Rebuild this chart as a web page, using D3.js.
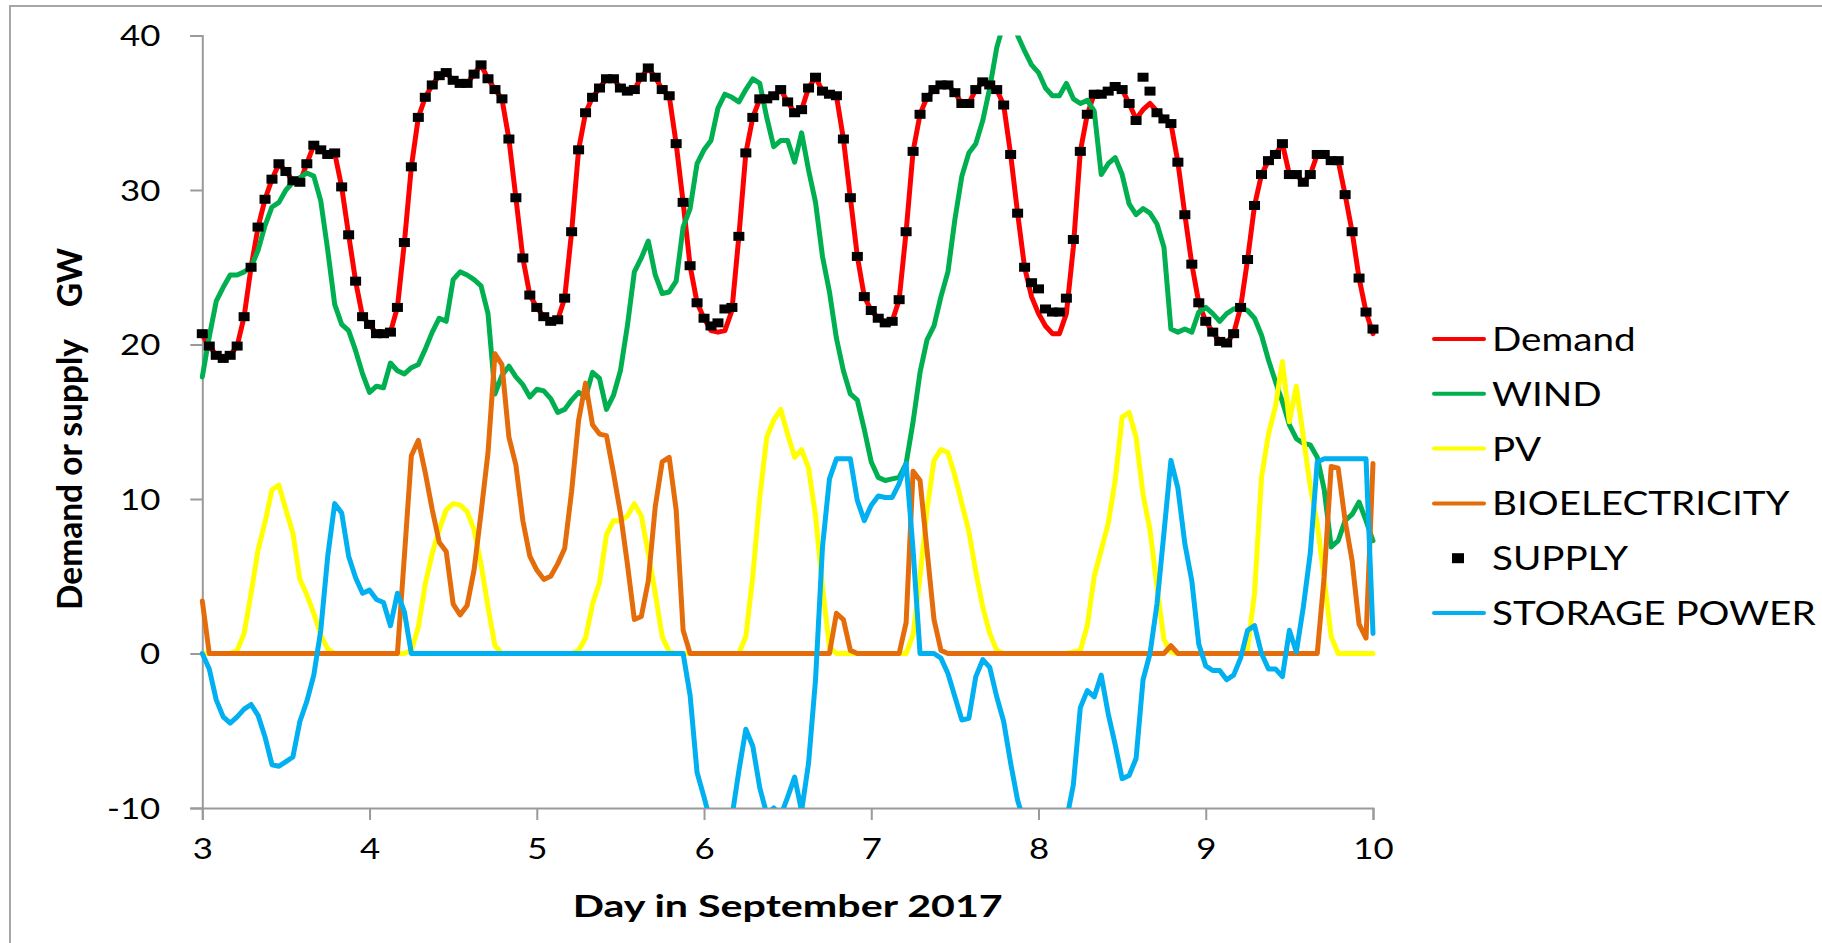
<!DOCTYPE html>
<html>
<head>
<meta charset="utf-8">
<script src="https://cdn.jsdelivr.net/npm/d3@7"></script>
<style>
  body { margin: 0; background: #fff; }
  svg { display: block; }
  text { font-family: Lato, "Open Sans", sans-serif; fill: #000; }
</style>
</head>
<body>
<div id="chart"></div>
<script>
// hourly values, 3 Sept 00:00 to 10 Sept 00:00 (169 points)
const startDay = 3;
const pointsPerDay = 24;

const demand = [
  20.6,19.9,19.3,19.1,19.3,19.9,21.8,25.0,27.6,29.4,30.7,31.7,31.2,30.6,30.5,31.7,32.9,32.6,32.3,32.4,30.2,27.1,24.1,21.8,
  21.3,20.7,20.7,20.8,22.4,26.6,31.5,34.7,36.0,36.8,37.4,37.6,37.1,36.9,36.9,37.5,38.1,37.2,36.5,35.9,33.3,29.5,25.6,23.2,
  22.4,21.8,21.5,21.6,23.0,27.3,32.6,35.0,36.0,36.6,37.2,37.2,36.6,36.4,36.5,37.3,37.9,37.3,36.5,36.1,33.0,29.2,25.1,22.7,
  21.7,20.9,20.8,20.9,22.2,27.0,32.4,34.7,35.9,35.9,36.1,36.5,35.7,35.0,35.2,36.6,37.3,36.4,36.2,36.1,33.3,29.5,25.7,23.1,
  22.2,21.7,21.4,21.5,22.9,27.3,32.5,34.9,36.0,36.5,36.8,36.8,36.3,35.6,35.6,36.5,37.0,36.8,36.5,35.5,32.3,28.5,25.0,23.1,
  22.0,21.2,20.7,20.7,22.0,26.3,32.5,34.9,36.2,36.2,36.4,36.7,36.5,35.6,34.6,35.2,35.6,35.1,34.6,34.3,31.8,28.4,25.2,22.7,
  21.5,20.8,20.2,20.1,20.7,22.4,25.5,29.0,31.0,31.9,32.3,33.0,31.0,31.0,30.5,31.0,32.3,32.3,31.9,31.9,29.7,27.3,24.3,22.1,
  20.7
];

const supply = [
  20.7,19.9,19.3,19.1,19.3,19.9,21.8,25.0,27.6,29.4,30.7,31.7,31.2,30.6,30.5,31.7,32.9,32.6,32.3,32.4,30.2,27.1,24.1,21.8,
  21.3,20.7,20.7,20.8,22.4,26.6,31.5,34.7,36.0,36.8,37.4,37.6,37.1,36.9,36.9,37.5,38.1,37.2,36.5,35.9,33.3,29.5,25.6,23.2,
  22.4,21.8,21.5,21.6,23.0,27.3,32.6,35.0,36.0,36.6,37.2,37.2,36.6,36.4,36.5,37.3,37.9,37.3,36.5,36.1,33.0,29.2,25.1,22.7,
  21.7,21.2,21.4,22.3,22.4,27.0,32.4,34.7,35.9,35.9,36.1,36.5,35.7,35.0,35.2,36.6,37.3,36.4,36.2,36.1,33.3,29.5,25.7,23.1,
  22.2,21.7,21.4,21.5,22.9,27.3,32.5,34.9,36.0,36.5,36.8,36.8,36.3,35.6,35.6,36.5,37.0,36.8,36.5,35.5,32.3,28.5,25.0,24.0,
  23.6,22.3,22.1,22.1,23.0,26.8,32.5,34.9,36.2,36.2,36.4,36.7,36.5,35.6,34.5,37.3,36.4,35.0,34.6,34.3,31.8,28.4,25.2,22.7,
  21.5,20.8,20.2,20.1,20.7,22.4,25.5,29.0,31.0,31.9,32.3,33.0,31.0,31.0,30.5,31.0,32.3,32.3,31.9,31.9,29.7,27.3,24.3,22.1,
  21.0
];

const wind = [
  17.9,20.5,22.8,23.7,24.5,24.5,24.7,25.0,26.1,27.7,28.9,29.2,30.0,30.5,30.8,31.1,30.9,29.3,26.1,22.6,21.3,20.9,19.6,18.1,
  16.9,17.3,17.2,18.8,18.3,18.1,18.5,18.7,19.7,20.8,21.7,21.5,24.2,24.7,24.5,24.2,23.8,22.0,16.8,18.0,18.6,17.9,17.4,16.6,
  17.1,17.0,16.5,15.6,15.8,16.4,16.9,16.6,18.2,17.8,15.8,16.7,18.3,21.2,24.7,25.6,26.7,24.5,23.3,23.4,24.1,27.6,28.8,31.7,
  32.6,33.2,35.3,36.2,36.0,35.7,36.5,37.2,36.9,34.7,32.8,33.2,33.2,31.8,33.7,31.3,29.2,25.7,23.4,20.4,18.3,16.8,16.4,14.5,
  12.4,11.4,11.2,11.3,11.4,12.3,15.0,18.2,20.3,21.2,23.1,24.7,28.1,30.9,32.4,33.0,34.5,36.6,39.2,40.8,41.5,40.0,39.0,38.1,
  37.6,36.6,36.1,36.1,36.9,35.9,35.6,35.8,35.1,31.0,31.7,32.1,31.0,29.1,28.4,28.8,28.5,27.8,26.3,21.0,20.8,21.0,20.8,22.1,
  22.4,22.0,21.5,22.0,22.3,22.4,22.2,21.7,20.6,19.0,17.6,16.3,14.8,13.9,13.6,13.5,12.7,10.6,6.9,7.3,8.6,9.0,9.8,8.6,
  7.3
];

const pv = [
  0,0,0,0,0,0.2,1.3,3.9,6.7,8.5,10.6,10.9,9.3,7.8,4.8,3.8,2.6,1.2,0.3,0,0,0,0,0,
  0,0,0,0,0,0,0.2,1.7,4.5,6.5,8.0,9.3,9.7,9.6,9.2,8.0,5.8,3.0,0.5,0,0,0,0,0,
  0,0,0,0,0,0,0.2,1.0,3.2,4.6,7.7,8.6,8.6,8.9,9.7,8.9,6.5,3.9,1.1,0.1,0,0,0,0,
  0,0,0,0,0,0,1.1,5.0,10.1,14.0,15.1,15.8,14.2,12.7,13.2,12.0,8.9,4.3,0.4,0,0,0,0,0,
  0,0,0,0,0,0,1.2,5.0,9.3,12.5,13.2,13.0,11.5,9.7,7.9,5.3,3.0,1.3,0.2,0,0,0,0,0,
  0,0,0,0,0,0.1,0.2,1.8,5.0,6.7,8.4,11.2,15.3,15.6,14.0,10.3,8.0,4.3,0.9,0.1,0,0,0,0,
  0,0,0,0,0,0,0.3,3.9,11.4,14.2,16.0,18.9,15.0,17.3,14.0,10.8,8.4,4.8,1.1,0,0,0,0,0,
  0
];

const bio = [
  3.4,0,0,0,0,0,0,0,0,0,0,0,0,0,0,0,0,0,0,0,0,0,0,0,
  0,0,0,0,0,6.3,12.8,13.8,11.7,9.3,7.2,6.6,3.2,2.5,3.1,5.4,9.1,13.0,19.4,18.7,14.0,12.2,8.6,6.3,
  5.4,4.8,5.0,5.8,6.8,10.5,15.1,17.5,14.8,14.2,14.1,11.7,9.1,5.8,2.2,2.4,4.7,9.5,12.4,12.7,9.3,1.5,0,0,
  0,0,0,0,0,0,0,0,0,0,0,0,0,0,0,0,0,0,0,2.6,2.2,0.2,0,0,
  0,0,0,0,0,2.0,11.8,11.2,6.7,2.2,0.2,0,0,0,0,0,0,0,0,0,0,0,0,0,
  0,0,0,0,0,0,0,0,0,0,0,0,0,0,0,0,0,0,0,0.5,0,0,0,0,
  0,0,0,0,0,0,0,0,0,0,0,0,0,0,0,0,0,5.0,12.1,12.0,8.6,6.0,1.9,1.0,
  12.3
];

const storage = [
  0,-1.0,-3.0,-4.1,-4.5,-4.1,-3.6,-3.3,-4.0,-5.4,-7.2,-7.3,-7.0,-6.7,-4.4,-3.1,-1.4,1.5,6.3,9.7,9.1,6.3,4.9,3.9,
  4.1,3.5,3.3,1.8,3.9,2.7,0,0,0,0,0,0,0,0,0,0,0,0,0,0,0,0,0,0,
  0,0,0,0,0,0,0,0,0,0,0,0,0,0,0,0,0,0,0,0,0,0,-2.7,-7.7,
  -9.3,-11.0,-12.0,-11.5,-10.6,-7.6,-4.9,-6.0,-8.7,-10.4,-10.0,-10.5,-9.3,-8.0,-10.2,-7.1,-1.7,6.9,11.3,12.6,12.6,12.6,9.9,8.6,
  9.6,10.2,10.1,10.1,11.0,12.3,6.7,0,0,0,-0.3,-1.3,-2.8,-4.3,-4.2,-1.5,-0.4,-0.9,-2.8,-4.4,-7.1,-9.5,-11.0,-12.5,
  -13.0,-13.0,-13.0,-12.0,-10.8,-8.5,-3.5,-2.4,-2.8,-1.4,-3.9,-5.9,-8.1,-7.9,-6.8,-1.7,0,3.2,7.8,12.5,10.7,7.1,4.7,0.6,
  -0.8,-1.1,-1.1,-1.7,-1.4,-0.3,1.5,1.8,0,-1.0,-1.0,-1.5,1.5,0.1,3.0,6.5,12.4,12.6,12.6,12.6,12.6,12.6,12.6,12.6,
  1.3
];

const yTicks = [-10, 0, 10, 20, 30, 40];
const xTicks = [3, 4, 5, 6, 7, 8, 9, 10];

const seriesNames = ["Demand", "WIND", "PV", "BIOELECTRICITY", "SUPPLY", "STORAGE POWER"];
const seriesColors = ["#ff0000", "#00b050", "#ffff00", "#e46c0a", "#000000", "#00b0f0"];

const W = 1822, H = 943;
const plot = {left: 202.3, right: 1373, top: 35.5, bottom: 808};
const stretch = 1.17;   // the picture is a little wider than tall

function widen(sel, k) {
  sel.each(function() {
    const len = this.getComputedTextLength();
    d3.select(this).attr("textLength", len * k).attr("lengthAdjust", "spacingAndGlyphs");
  });
}

function draw() {
  const svg = d3.select("#chart").append("svg")
      .attr("width", W)
      .attr("height", H);

  svg.append("rect").attr("width", W).attr("height", H).attr("fill", "#fff");

  // chart area border (top and left only)
  svg.append("path")
      .attr("d", "M10," + H + "V6H" + W)
      .attr("fill", "none")
      .attr("stroke", "#a6a6a6")
      .attr("stroke-width", 2);

  const x = d3.scaleLinear().domain([3, 10]).range([plot.left, plot.right]);
  const y = d3.scaleLinear().domain([-10, 40]).range([plot.bottom, plot.top]);
  const dayOf = i => startDay + i / pointsPerDay;

  svg.append("clipPath").attr("id", "plotClip")
    .append("rect")
      .attr("x", plot.left - 3)
      .attr("y", plot.top)
      .attr("width", plot.right - plot.left + 6)
      .attr("height", plot.bottom - plot.top);

  // axes
  const yAxis = svg.append("g")
      .attr("transform", "translate(" + plot.left + ",0)")
      .call(d3.axisLeft(y).tickValues(yTicks).tickSize(12).tickPadding(30).tickFormat(d => String(d)));
  const xAxis = svg.append("g")
      .attr("transform", "translate(0," + plot.bottom + ")")
      .call(d3.axisBottom(x).tickValues(xTicks).tickSize(12).tickPadding(18).tickFormat(d => String(d)));

  [yAxis, xAxis].forEach(function(ax) {
    ax.select(".domain").attr("stroke", "#9a9a9a").attr("stroke-width", 2);
    ax.selectAll(".tick line").attr("stroke", "#9a9a9a").attr("stroke-width", 2);
    ax.selectAll(".tick text")
        .attr("font-family", "Lato, sans-serif")
        .attr("font-size", 29)
        .attr("fill", "#000");
  });
  yAxis.selectAll(".tick text").attr("dy", "0.36em");
  yAxis.selectAll(".tick text").call(widen, 1.2);
  xAxis.selectAll(".tick text").call(widen, 1.2);

  // axis titles
  svg.append("text")
      .attr("x", (plot.left + plot.right) / 2)
      .attr("y", 917)
      .attr("text-anchor", "middle")
      .attr("font-size", 31)
      .attr("font-weight", "bold")
      .text("Day in September 2017")
      .attr("textLength", 430)
      .attr("lengthAdjust", "spacingAndGlyphs");

  svg.append("text")
      .attr("transform", "translate(82,429) scale(1.15,1) rotate(-90)")
      .attr("text-anchor", "middle")
      .attr("font-size", 30)
      .attr("font-weight", "bold")
      .style("white-space", "pre")
      .text("Demand or supply    GW")
      .attr("textLength", 362)
      .attr("lengthAdjust", "spacingAndGlyphs");

  // series
  const lineGen = d3.line()
      .x((d, i) => x(dayOf(i)))
      .y(d => y(d));

  const plotG = svg.append("g").attr("clip-path", "url(#plotClip)");

  const lineSeries = [
    {name: "Demand", values: demand, color: seriesColors[0]},
    {name: "WIND", values: wind, color: seriesColors[1]},
    {name: "PV", values: pv, color: seriesColors[2]},
    {name: "BIOELECTRICITY", values: bio, color: seriesColors[3]}
  ];

  plotG.selectAll("path.series")
    .data(lineSeries)
    .enter().append("path")
      .attr("class", "series")
      .attr("d", d => lineGen(d.values))
      .attr("fill", "none")
      .attr("stroke", d => d.color)
      .attr("stroke-width", 5)
      .attr("stroke-linejoin", "round")
      .attr("stroke-linecap", "round");

  // supply markers
  svg.append("g").selectAll("rect")
    .data(supply)
    .enter().append("rect")
      .attr("x", (d, i) => x(dayOf(i)) - 5.5)
      .attr("y", d => y(d) - 4.5)
      .attr("width", 11)
      .attr("height", 9)
      .attr("fill", "#000");

  plotG.append("path")
      .attr("d", lineGen(storage))
      .attr("fill", "none")
      .attr("stroke", seriesColors[5])
      .attr("stroke-width", 5)
      .attr("stroke-linejoin", "round")
      .attr("stroke-linecap", "round");

  // legend
  const legend = svg.append("g");
  const rowY = i => 339 + i * 54.8;

  seriesNames.forEach(function(name, i) {
    const row = legend.append("g");
    if (name === "SUPPLY") {
      row.append("rect")
          .attr("x", 1452).attr("y", rowY(i) - 5)
          .attr("width", 12).attr("height", 10)
          .attr("fill", "#000");
    } else {
      row.append("line")
          .attr("x1", 1434).attr("x2", 1484)
          .attr("y1", rowY(i)).attr("y2", rowY(i))
          .attr("stroke", seriesColors[i])
          .attr("stroke-width", 4)
          .attr("stroke-linecap", "round");
    }
    row.append("text")
        .attr("x", 1492)
        .attr("y", rowY(i) + 12)
        .attr("font-size", 33)
        .text(name)
        .call(widen, stretch);
  });
}

document.fonts.ready.then(draw);
</script>
</body>
</html>
